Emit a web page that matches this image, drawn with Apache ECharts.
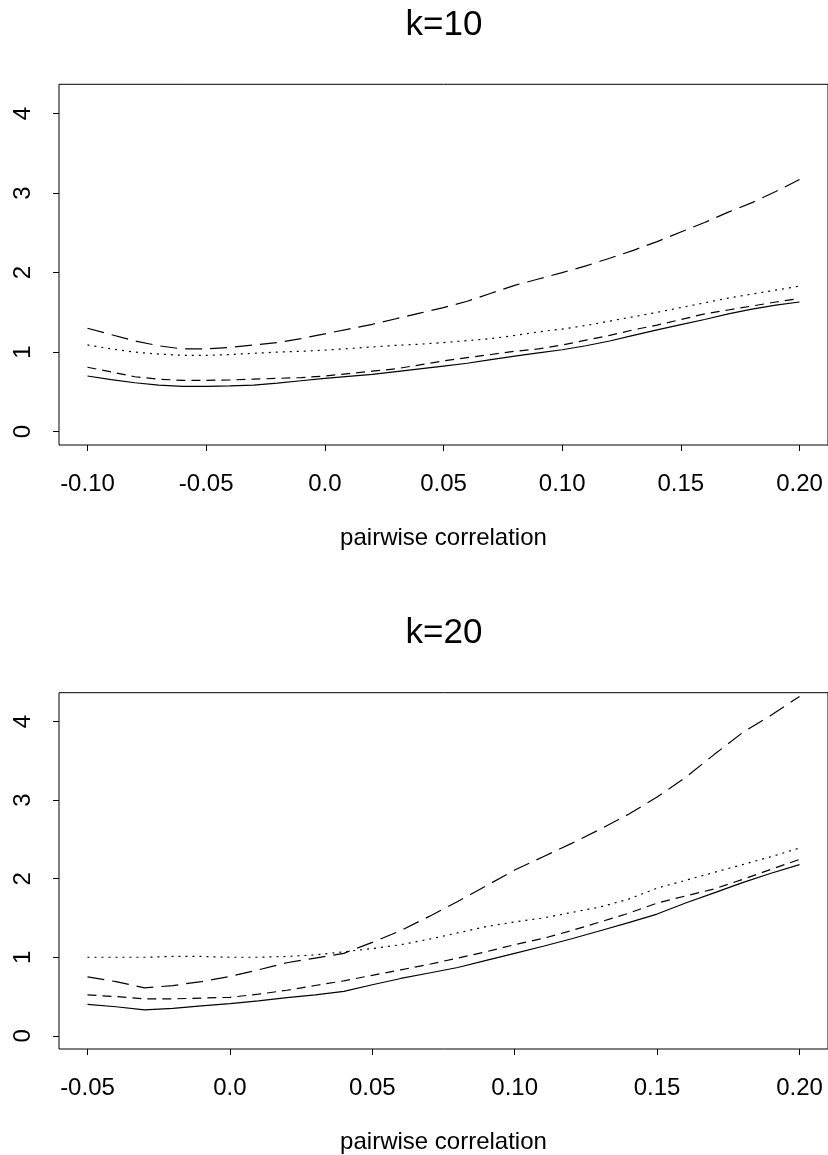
<!DOCTYPE html>
<html><head><meta charset="utf-8">
<script src="https://cdn.jsdelivr.net/npm/echarts@6/dist/echarts.min.js"></script>
<style>html,body{margin:0;padding:0;background:#fff}#c{width:828px;height:1155px}</style>
</head><body><div id="c"></div>
<script>
// ---- data ----
const titles = ['k=10', 'k=20'];
const xAxisTitle = 'pairwise correlation';

const x10 = [-0.10,-0.09,-0.08,-0.07,-0.06,-0.05,-0.04,-0.03,-0.02,-0.01,0.00,0.01,0.02,0.03,0.04,0.05,0.06,0.07,0.08,0.09,0.10,0.11,0.12,0.13,0.14,0.15,0.16,0.17,0.18,0.19,0.20];
const k10Solid    = [0.70,0.655,0.615,0.585,0.57,0.57,0.575,0.585,0.61,0.64,0.67,0.695,0.72,0.755,0.79,0.825,0.86,0.905,0.95,0.99,1.03,1.08,1.14,1.21,1.28,1.345,1.41,1.48,1.54,1.59,1.63];
const k10Dashed   = [0.81,0.75,0.69,0.66,0.645,0.645,0.65,0.66,0.67,0.68,0.70,0.73,0.76,0.79,0.84,0.89,0.93,0.97,1.01,1.04,1.09,1.15,1.21,1.28,1.34,1.41,1.48,1.53,1.58,1.63,1.675];
const k10Dotted   = [1.09,1.04,1.00,0.975,0.96,0.96,0.97,0.985,1.00,1.01,1.025,1.045,1.065,1.085,1.10,1.12,1.145,1.17,1.21,1.255,1.29,1.335,1.39,1.445,1.50,1.56,1.62,1.68,1.73,1.78,1.83];
const k10LongDash = [1.30,1.22,1.14,1.08,1.04,1.04,1.06,1.09,1.12,1.17,1.23,1.29,1.35,1.42,1.49,1.56,1.64,1.74,1.84,1.92,2.00,2.085,2.18,2.28,2.39,2.51,2.63,2.76,2.88,3.02,3.17];

const x20 = [-0.05,-0.04,-0.03,-0.02,-0.01,0.00,0.01,0.02,0.03,0.04,0.05,0.06,0.07,0.08,0.09,0.10,0.11,0.12,0.13,0.14,0.15,0.16,0.17,0.18,0.19,0.20];
const k20Solid    = [0.40,0.37,0.33,0.35,0.38,0.41,0.445,0.485,0.52,0.565,0.65,0.73,0.80,0.87,0.96,1.05,1.14,1.236,1.338,1.44,1.55,1.69,1.82,1.95,2.07,2.18];
const k20Dashed   = [0.52,0.50,0.47,0.47,0.48,0.49,0.53,0.58,0.64,0.70,0.77,0.84,0.91,0.99,1.07,1.16,1.24,1.34,1.45,1.56,1.69,1.78,1.87,1.99,2.12,2.245];
const k20Dotted   = [1.00,1.00,1.00,1.01,1.01,1.00,1.00,1.01,1.03,1.07,1.11,1.16,1.23,1.31,1.39,1.45,1.50,1.57,1.64,1.74,1.88,1.98,2.08,2.18,2.28,2.39];
const k20LongDash = [0.75,0.69,0.61,0.64,0.69,0.755,0.84,0.93,0.99,1.05,1.19,1.34,1.52,1.71,1.91,2.11,2.28,2.45,2.63,2.82,3.04,3.29,3.58,3.86,4.08,4.32];

const xTicks10 = [-0.10,-0.05,0,0.05,0.10,0.15,0.20];
const xTickLabels10 = ['-0.10','-0.05','0.0','0.05','0.10','0.15','0.20'];
const xTicks20 = [-0.05,0,0.05,0.10,0.15,0.20];
const xTickLabels20 = ['-0.05','0.0','0.05','0.10','0.15','0.20'];
const yTicks = [0,1,2,3,4];
const yTickLabels = ['0','1','2','3','4'];

// ---- chart ----
const FONT = "'Liberation Sans', Arial, Helvetica, sans-serif";
const chart = echarts.init(document.getElementById('c'), null, {renderer: 'canvas'});

function lookup(vals, labels) {
  return function (v) {
    for (let i = 0; i < vals.length; i++) if (Math.abs(v - vals[i]) < 1e-9) return labels[i];
    return '';
  };
}
function pairs(xs, ys) { return xs.map((x, i) => [x, ys[i]]); }

const styles = {
  solid:    {type: 'solid'},
  dashed:   {type: [9, 6]},
  dotted:   {type: [2, 5]},
  longdash: {type: [17, 8]}
};

function xAxisFor(gridIndex, min, max, ticks, labels) {
  return {
    type: 'value', gridIndex, min, max,
    axisLine: {show: false, onZero: false},
    splitLine: {show: false},
    axisTick: {show: true, length: 6, inside: false, lineStyle: {color: '#000', width: 1}, customValues: ticks},
    axisLabel: {show: true, customValues: ticks, formatter: lookup(ticks, labels), color: '#000', fontSize: 24, fontFamily: FONT, margin: 27},
    name: xAxisTitle, nameLocation: 'middle', nameGap: 81,
    nameTextStyle: {color: '#000', fontSize: 24, fontFamily: FONT}
  };
}
function yAxisFor(gridIndex) {
  return {
    type: 'value', gridIndex, min: -0.168, max: 4.368, position: 'left',
    axisLine: {show: false, onZero: false},
    splitLine: {show: false},
    axisTick: {show: true, length: 6, lineStyle: {color: '#000', width: 1}, customValues: yTicks},
    axisLabel: {show: true, customValues: yTicks, formatter: lookup(yTicks, yTickLabels), rotate: 90, color: '#000', fontSize: 24, fontFamily: FONT, margin: 24}
  };
}
function line(name, xIdx, xs, ys, st) {
  return {
    name, type: 'line', xAxisIndex: xIdx, yAxisIndex: xIdx,
    data: pairs(xs, ys), showSymbol: false, symbol: 'none', smooth: false,
    lineStyle: Object.assign({color: '#000', width: 1.2}, st),
    animation: false, silent: true
  };
}

const option = {
  backgroundColor: '#fff',
  animation: false,
  grid: [
    {left: 59, top: 84.3, width: 771, height: 360.7, show: true, borderColor: '#000', borderWidth: 1, backgroundColor: 'transparent'},
    {left: 59, top: 692.7, width: 771, height: 360.6, show: true, borderColor: '#000', borderWidth: 1, backgroundColor: 'transparent'}
  ],
  xAxis: [
    xAxisFor(0, -0.112, 0.212, xTicks10, xTickLabels10),
    xAxisFor(1, -0.06, 0.21, xTicks20, xTickLabels20)
  ],
  yAxis: [yAxisFor(0), yAxisFor(1)],
  graphic: [
    {type: 'text', x: 444, y: 25, style: {text: titles[0], font: '35px ' + FONT, fill: '#000', textAlign: 'center', textVerticalAlign: 'middle'}},
    {type: 'text', x: 444, y: 633, style: {text: titles[1], font: '35px ' + FONT, fill: '#000', textAlign: 'center', textVerticalAlign: 'middle'}}
  ],
  series: [
    line('k10 solid', 0, x10, k10Solid, styles.solid),
    line('k10 dashed', 0, x10, k10Dashed, styles.dashed),
    line('k10 dotted', 0, x10, k10Dotted, styles.dotted),
    line('k10 longdash', 0, x10, k10LongDash, styles.longdash),
    line('k20 solid', 1, x20, k20Solid, styles.solid),
    line('k20 dashed', 1, x20, k20Dashed, styles.dashed),
    line('k20 dotted', 1, x20, k20Dotted, styles.dotted),
    line('k20 longdash', 1, x20, k20LongDash, styles.longdash)
  ]
};
chart.setOption(option);
</script>
</body></html>
